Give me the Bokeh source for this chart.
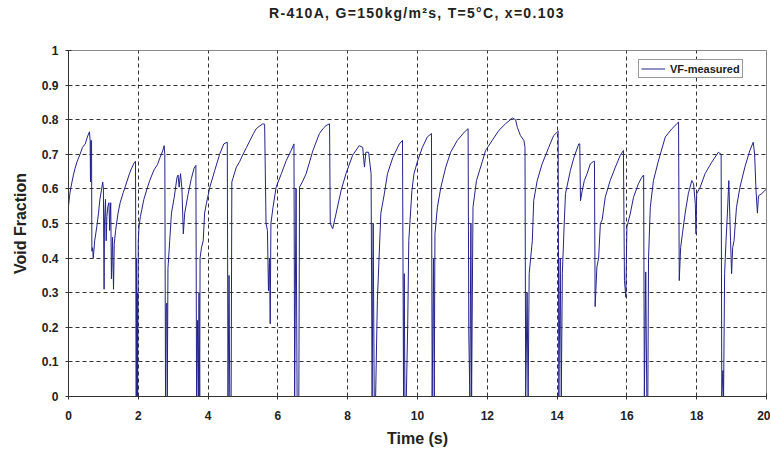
from bokeh.plotting import figure
from bokeh.models import FixedTicker, Range1d, Legend, LegendItem, Div
from bokeh.layouts import column
from bokeh.embed import file_html
from bokeh.resources import INLINE

title_text = "R-410A, G=150kg/m\u00b2s, T=5\u00b0C, x=0.103"
x_label = "Time (s)"
y_label = "Void Fraction"
series_name = "VF-measured"

x_ticks = [0, 2, 4, 6, 8, 10, 12, 14, 16, 18, 20]
y_ticks = [0, 0.1, 0.2, 0.3, 0.4, 0.5, 0.6, 0.7, 0.8, 0.9, 1]
y_tick_labels = ["0", "0.1", "0.2", "0.3", "0.4", "0.5", "0.6", "0.7", "0.8", "0.9", "1"]

time_s = [
    0.00, 0.03, 0.06, 0.10, 0.14, 0.19, 0.25, 0.33, 0.40, 0.48, 0.54, 0.60, 0.62, 0.63, 0.64, 0.66, 0.67, 0.69, 0.71, 0.75,
    0.81, 0.86, 0.90, 0.95, 0.98, 1.00, 1.02, 1.03, 1.06, 1.08, 1.10, 1.13, 1.16, 1.18, 1.21, 1.23, 1.26, 1.29, 1.31, 1.35,
    1.42, 1.48, 1.57, 1.67, 1.75, 1.81, 1.88, 1.92, 1.94, 1.95, 1.96, 1.97, 1.98, 2.00, 2.02, 2.06, 2.10, 2.16, 2.25, 2.33,
    2.45, 2.55, 2.62, 2.70, 2.74, 2.76, 2.78, 2.80, 2.82, 2.83, 2.85, 2.90, 2.95, 3.03, 3.11, 3.14, 3.17, 3.21, 3.25, 3.29,
    3.33, 3.43, 3.52, 3.60, 3.65, 3.67, 3.70, 3.72, 3.74, 3.76, 3.77, 3.81, 3.86, 3.90, 3.95, 4.05, 4.19, 4.33, 4.45, 4.55,
    4.57, 4.60, 4.62, 4.66, 4.68, 4.71, 4.81, 4.91, 5.00, 5.10, 5.20, 5.30, 5.38, 5.48, 5.57, 5.62, 5.66, 5.70, 5.73, 5.76,
    5.78, 5.80, 5.86, 5.95, 6.10, 6.24, 6.38, 6.46, 6.48, 6.52, 6.55, 6.60, 6.62, 6.70, 6.81, 7.00, 7.19, 7.30, 7.38, 7.48,
    7.50, 7.57, 7.67, 7.81, 7.95, 8.14, 8.33, 8.43, 8.48, 8.52, 8.60, 8.67, 8.70, 8.73, 8.76, 8.80, 8.85, 8.95, 9.05, 9.14,
    9.29, 9.48, 9.57, 9.60, 9.62, 9.64, 9.68, 9.72, 9.75, 9.84, 9.90, 10.00, 10.14, 10.28, 10.40, 10.42, 10.46, 10.48, 10.50, 10.57,
    10.67, 10.81, 10.95, 11.14, 11.34, 11.45, 11.47, 11.50, 11.53, 11.55, 11.59, 11.69, 11.86, 11.95, 12.14, 12.33, 12.52, 12.72, 12.81, 12.86,
    12.95, 13.05, 13.08, 13.10, 13.14, 13.17, 13.20, 13.29, 13.33, 13.43, 13.57, 13.76, 13.90, 14.03, 14.05, 14.09, 14.12, 14.15, 14.20, 14.24,
    14.38, 14.48, 14.62, 14.65, 14.67, 14.72, 14.78, 14.86, 14.95, 15.05, 15.07, 15.09, 15.14, 15.19, 15.24, 15.29, 15.38, 15.52, 15.67, 15.81,
    15.90, 15.93, 15.97, 16.00, 16.05, 16.10, 16.19, 16.33, 16.43, 16.48, 16.50, 16.54, 16.57, 16.60, 16.62, 16.67, 16.76, 16.90, 17.10, 17.29,
    17.43, 17.48, 17.50, 17.54, 17.59, 17.67, 17.76, 17.86, 17.91, 17.96, 17.98, 18.00, 18.10, 18.24, 18.43, 18.62, 18.70, 18.72, 18.75, 18.77,
    18.80, 18.84, 18.88, 18.92, 18.97, 19.00, 19.03, 19.07, 19.14, 19.24, 19.38, 19.52, 19.62, 19.66, 19.70, 19.74, 19.77, 19.86, 20.00,
]

void_fraction = [
    0.55, 0.58, 0.60, 0.62, 0.64, 0.66, 0.68, 0.70, 0.72, 0.73, 0.75, 0.765, 0.74, 0.62, 0.74, 0.74, 0.42, 0.43, 0.40, 0.45,
    0.49, 0.53, 0.57, 0.60, 0.62, 0.60, 0.31, 0.50, 0.57, 0.45, 0.52, 0.55, 0.56, 0.48, 0.56, 0.34, 0.46, 0.31, 0.44, 0.48,
    0.53, 0.56, 0.59, 0.62, 0.645, 0.66, 0.675, 0.68, 0.00, 0.40, 0.00, 0.30, 0.00, 0.45, 0.49, 0.52, 0.54, 0.57, 0.60, 0.625,
    0.655, 0.67, 0.69, 0.71, 0.725, 0.70, 0.00, 0.26, 0.27, 0.00, 0.37, 0.45, 0.53, 0.576, 0.634, 0.64, 0.605, 0.644, 0.60, 0.47,
    0.53, 0.586, 0.63, 0.66, 0.668, 0.00, 0.22, 0.00, 0.30, 0.00, 0.40, 0.43, 0.45, 0.53, 0.557, 0.605, 0.653, 0.70, 0.73, 0.735,
    0.00, 0.35, 0.00, 0.00, 0.62, 0.63, 0.663, 0.68, 0.70, 0.72, 0.74, 0.76, 0.774, 0.782, 0.788, 0.787, 0.50, 0.48, 0.306, 0.40,
    0.21, 0.50, 0.547, 0.605, 0.644, 0.682, 0.711, 0.73, 0.00, 0.60, 0.00, 0.00, 0.605, 0.62, 0.644, 0.71, 0.76, 0.775, 0.783, 0.788,
    0.50, 0.485, 0.53, 0.595, 0.644, 0.697, 0.725, 0.72, 0.663, 0.706, 0.706, 0.644, 0.00, 0.50, 0.00, 0.00, 0.277, 0.53, 0.586, 0.644,
    0.69, 0.73, 0.74, 0.00, 0.355, 0.00, 0.00, 0.21, 0.45, 0.595, 0.644, 0.68, 0.72, 0.75, 0.76, 0.00, 0.40, 0.00, 0.47, 0.547,
    0.605, 0.663, 0.706, 0.74, 0.764, 0.774, 0.18, 0.00, 0.50, 0.00, 0.547, 0.624, 0.68, 0.711, 0.74, 0.769, 0.788, 0.805, 0.80, 0.778,
    0.754, 0.74, 0.72, 0.00, 0.30, 0.00, 0.355, 0.45, 0.566, 0.624, 0.672, 0.72, 0.754, 0.767, 0.00, 0.40, 0.00, 0.355, 0.49, 0.586,
    0.653, 0.69, 0.73, 0.73, 0.566, 0.595, 0.624, 0.644, 0.672, 0.68, 0.68, 0.26, 0.374, 0.40, 0.50, 0.51, 0.576, 0.624, 0.663, 0.697,
    0.711, 0.335, 0.287, 0.49, 0.51, 0.53, 0.576, 0.615, 0.634, 0.64, 0.00, 0.36, 0.00, 0.00, 0.40, 0.547, 0.624, 0.68, 0.75, 0.774,
    0.788, 0.793, 0.335, 0.43, 0.47, 0.53, 0.586, 0.624, 0.615, 0.557, 0.47, 0.586, 0.605, 0.644, 0.677, 0.706, 0.70, 0.00, 0.075, 0.00,
    0.355, 0.45, 0.53, 0.624, 0.45, 0.355, 0.43, 0.45, 0.547, 0.605, 0.663, 0.71, 0.735, 0.70, 0.595, 0.53, 0.58, 0.586, 0.60,
]

FONT = "Liberation Sans"

title_div = Div(text=title_text, width=770, height=26, margin=0,
                styles={"text-align": "center", "font-family": FONT, "font-size": "14px",
                        "font-weight": "bold", "color": "#222222", "line-height": "26px",
                        "letter-spacing": "1.3px",
                        "padding-left": "64px", "box-sizing": "border-box"})

p = figure(width=770, height=423, output_backend="svg", toolbar_location=None,
           x_range=Range1d(0, 20), y_range=Range1d(0, 1),
           min_border_left=68, min_border_right=4, min_border_top=24, min_border_bottom=48,
           margin=0)

line = p.line(time_s, void_fraction, line_color="#23238a", line_width=1)

p.xaxis.ticker = FixedTicker(ticks=x_ticks)
p.yaxis.ticker = FixedTicker(ticks=y_ticks)
p.yaxis.major_label_overrides = {t: s for t, s in zip(y_ticks, y_tick_labels)}
p.xaxis.major_label_overrides = {t: str(t) for t in x_ticks}

for ax in (p.xaxis, p.yaxis):
    ax.axis_line_color = "#333333"
    ax.major_tick_line_color = "#333333"
    ax.major_tick_in = 3
    ax.major_tick_out = 3
    ax.minor_tick_line_color = None
    ax.major_label_text_font = FONT
    ax.major_label_text_font_size = "12px"
    ax.major_label_text_font_style = "bold"
    ax.major_label_text_color = "#222222"
    ax.axis_label_text_font = FONT
    ax.axis_label_text_font_size = "16px"
    ax.axis_label_text_font_style = "bold"
    ax.axis_label_text_color = "#222222"

p.xaxis.axis_label = x_label
p.yaxis.axis_label = y_label
p.xaxis.major_label_standoff = 11
p.xaxis.axis_label_standoff = 7
p.yaxis.major_label_standoff = 7
p.yaxis.axis_label_standoff = 10

p.xgrid.grid_line_color = "#333333"
p.ygrid.grid_line_color = "#333333"
p.xgrid.grid_line_dash = "4 3"
p.ygrid.grid_line_dash = "4 3"
p.xgrid.grid_line_width = 1
p.ygrid.grid_line_width = 1

p.outline_line_color = "#888888"
p.outline_line_width = 1
p.background_fill_color = "white"
p.border_fill_color = "white"

legend = Legend(items=[LegendItem(label=series_name, renderers=[line])],
                location=(570, 318))
legend.label_text_font = FONT
legend.label_text_font_size = "11px"
legend.label_text_font_style = "bold"
legend.label_text_color = "#222222"
legend.border_line_color = "#333333"
legend.border_line_width = 1
legend.padding = 2
legend.spacing = 0
legend.margin = 0
legend.glyph_width = 24
legend.glyph_height = 13
legend.label_height = 13
legend.label_standoff = 5
legend.background_fill_alpha = 1.0
p.add_layout(legend, "center")

layout = column(title_div, p, spacing=0)

open("out.html", "w").write(file_html(layout, INLINE))
